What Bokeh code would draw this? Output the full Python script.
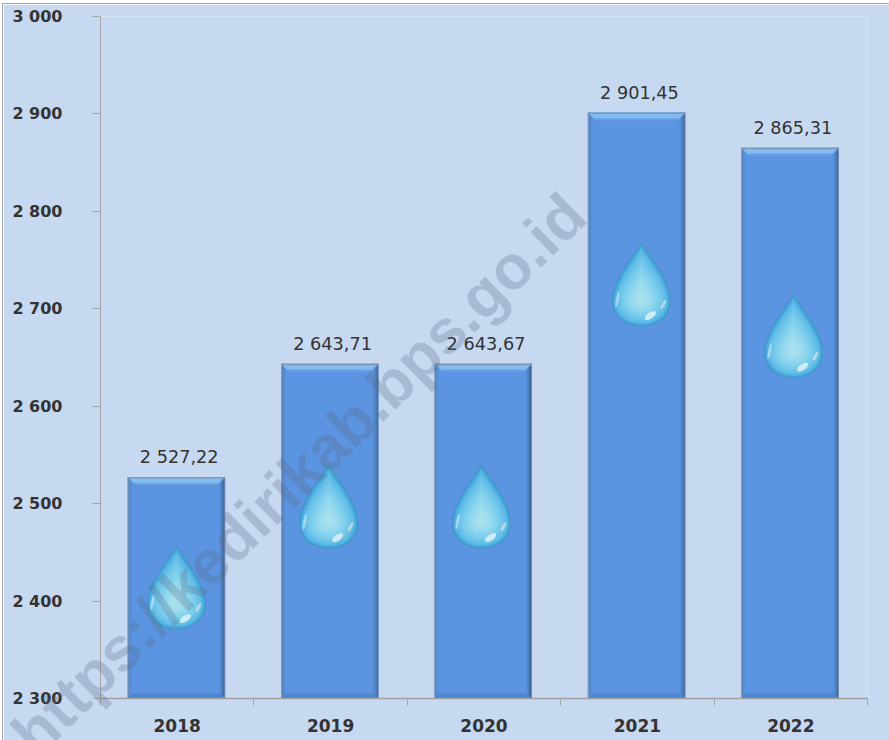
import numpy as np
from bokeh.plotting import figure
from bokeh.layouts import column
from bokeh.models import Range1d, FixedTicker
from bokeh.embed import file_html
from bokeh.core.properties import value
from bokeh.resources import INLINE

years = ["2018", "2019", "2020", "2021", "2022"]
values = [2527.22, 2643.71, 2643.67, 2901.45, 2865.31]
labels = ["2 527,22", "2 643,71", "2 643,67", "2 901,45", "2 865,31"]
drop_tip = [2458, 2541, 2541, 2769, 2716]
drop_shift = [-0.005, -0.013, -0.016, 0.026, 0.018]
y_ticks = [2300, 2400, 2500, 2600, 2700, 2800, 2900, 3000]
y_tick_labels = ["2 300", "2 400", "2 500", "2 600", "2 700", "2 800", "2 900", "3 000"]
watermark = "https://kedirikab.bps.go.id"

BG = "#c6d9f1"
FW, FH = 767, 682
px = 5 / FW
py = 700 / FH

p = figure(width=886, height=736, frame_width=FW, frame_height=FH,
           x_range=Range1d(0, 5), y_range=Range1d(2300, 3000),
           output_backend="svg", toolbar_location=None, tools="",
           min_border_left=97, min_border_top=12, min_border_right=22, min_border_bottom=42,
           background_fill_color=BG, border_fill_color=BG, outline_line_color=None,
           margin=(4, 0, 0, 3), frame_align=False,
           styles={"outline": "1px solid #a6a6a6"})
p.grid.visible = False

ax = p.xaxis[0]
ax.ticker = FixedTicker(ticks=[i + 0.5 for i in range(5)], minor_ticks=list(range(6)))
ax.major_label_overrides = {i + 0.5: y for i, y in enumerate(years)}
ax.major_tick_out = 0
ax.major_tick_in = 0
ax.minor_tick_out = 7
ax.minor_tick_in = 0
ax.minor_tick_line_color = "#a6a6a6"
ax.axis_line_color = "#a0a0a0"
ax.axis_line_width = 1.5
ax.major_label_standoff = 13
ax.major_label_text_font = "DejaVu Sans"
ax.major_label_text_font_style = "bold"
ax.major_label_text_font_size = "17px"
ax.major_label_text_color = "#333333"

ay = p.yaxis[0]
ay.ticker = FixedTicker(ticks=y_ticks)
ay.major_label_overrides = dict(zip(y_ticks, y_tick_labels))
ay.major_tick_out = 8
ay.major_tick_in = 0
ay.minor_tick_out = 0
ay.minor_tick_in = 0
ay.major_tick_line_color = "#a6a6a6"
ay.axis_line_color = "#a6a6a6"
ay.major_label_standoff = 30
ay.major_label_text_font = "DejaVu Sans"
ay.major_label_text_font_style = "bold"
ay.major_label_text_font_size = "16px"
ay.major_label_text_color = "#333333"

xc = np.arange(5) + 0.5
hw = 0.318

# bars with a bevel
left_shades = ["#7f97b6", "#5f86b8", "#5288cc", "#568dd6"]
right_shades = ["#6c86a8", "#3f6494", "#47709f", "#4d7fbc", "#5287d0", "#578fda"]
for x, v in zip(xc, values):
    l, r = x - 0.8 * px - hw, x - 0.8 * px + hw
    p.quad(left=l, right=r, top=v, bottom=2300, fill_color="#5b94e0", line_color=None)
    for i, c in enumerate(left_shades):
        p.quad(left=l + i * px, right=l + (i + 1) * px, top=v, bottom=2300, fill_color=c, line_color=None)
    for i, c in enumerate(right_shades):
        p.quad(left=r - (i + 1) * px, right=r - i * px, top=v, bottom=2300, fill_color=c, line_color=None)
    # top bevel
    p.patch([l, r, r - 6 * px, l + 6 * px], [v, v, v - 6 * py, v - 6 * py], fill_color="#82bcf0", line_color=None)
    p.quad(left=l, right=r, top=v, bottom=v - 1.5 * py, fill_color="#7f97b6", line_color=None)
    p.patch([l + 6 * px, r - 6 * px, r - 8 * px, l + 8 * px], [v - 6 * py, v - 6 * py, v - 8 * py, v - 8 * py],
            fill_color="#6ba2e6", line_color=None)
    # bottom bevel
    p.patch([l, r, r - 5 * px, l + 5 * px], [2300, 2300, 2300 + 5 * py, 2300 + 5 * py], fill_color="#4d86cf", line_color=None)


def drop_outline(cx, tip, scale=1.0, m=1.35, n=90):
    t = np.linspace(0, 2 * np.pi, n)
    sx = np.sin(t) * np.abs(np.sin(t / 2)) ** m
    sx = sx / np.abs(sx).max() * 29.5
    sy = 85 * (1 - np.cos(t)) / 2
    cy = 58
    return cx + sx * scale * px, tip - (cy + (sy - cy) * scale) * py


drop_layers = [(1.0, "#4b93bf"), (0.97, "#3ea3d8"), (0.92, "#52b2e2"), (0.85, "#62bde8"), (0.76, "#6ec4ea"),
               (0.66, "#7accec"), (0.55, "#85d2ec"), (0.44, "#91d8ee"), (0.32, "#9cdcee"), (0.2, "#a6dfee")]
for x, s, tip in zip(xc, drop_shift, drop_tip):
    cx = x + s
    for scale, c in drop_layers:
        xs, ys = drop_outline(cx, tip, scale)
        p.patch(list(xs), list(ys), fill_color=c, line_color=None)
    # highlights
    p.ellipse(x=cx + 9 * px, y=tip - 74 * py, width=13 * px, height=6 * py, angle=0.6,
              fill_color="#e6f4f4", line_color=None, fill_alpha=0.8)
    p.ellipse(x=cx - 24 * px, y=tip - 58 * py, width=3 * px, height=16 * py, angle=-0.2,
              fill_color="#d7f1f8", line_color=None, fill_alpha=0.55)
    p.ellipse(x=cx + 22 * px, y=tip - 63 * py, width=3 * px, height=10 * py, angle=-0.5,
              fill_color="#f0ead8", line_color=None, fill_alpha=0.6)

# value labels
p.text(x=list(xc), y=values, text=labels, x_offset=2, y_offset=-20,
       text_align="center", text_baseline="alphabetic", text_font=value("DejaVu Sans"),
       text_font_size="17.7px", text_color="#333333")

# watermark: a transparent sheet laid over the whole chart, its frame filling the sheet
q = figure(width=886, height=736, x_range=Range1d(3, 889), y_range=Range1d(740, 4),
           x_axis_type=None, y_axis_type=None,
           output_backend="svg", toolbar_location=None, tools="",
           min_border=0, background_fill_color=None, border_fill_color=None, outline_line_color=None,
           margin=(-736, 0, 0, 3), frame_align=False)
q.grid.visible = False
q.text(x=[22], y=[743], text=[watermark], angle=np.deg2rad(44.3),
       text_align="left", text_baseline="alphabetic",
       text_font=value("Liberation Sans"), text_font_style="bold", text_font_size="62px",
       text_color="#5a6b85", text_alpha=0.28)

open("out.html", "w").write(file_html(column(p, q), INLINE))
